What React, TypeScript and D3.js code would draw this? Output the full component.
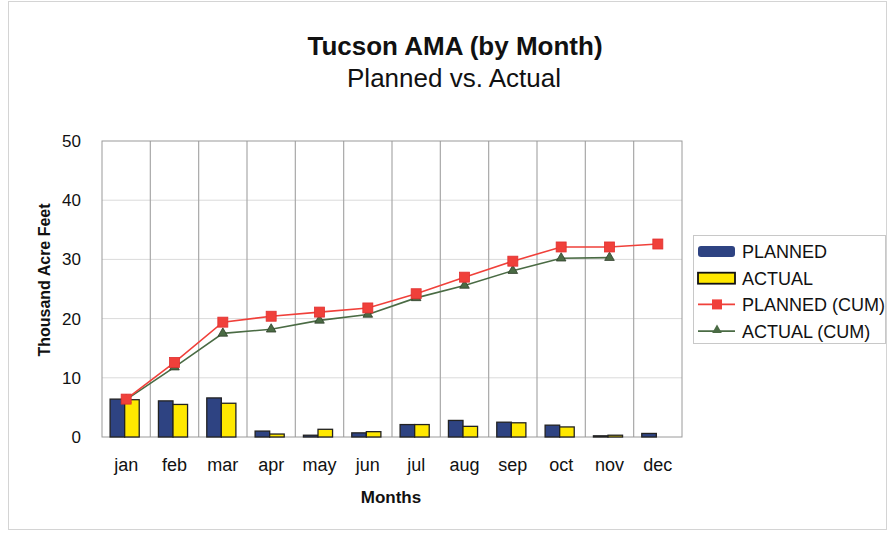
import React, { useEffect, useRef } from 'react';
import * as d3 from 'd3';

const months = ['jan', 'feb', 'mar', 'apr', 'may', 'jun', 'jul', 'aug', 'sep', 'oct', 'nov', 'dec'];
const planned = [6.4, 6.1, 6.6, 1.0, 0.3, 0.7, 2.1, 2.8, 2.5, 2.0, 0.2, 0.6];
const actual = [6.3, 5.5, 5.7, 0.5, 1.3, 0.9, 2.1, 1.8, 2.4, 1.7, 0.3, null];
const plannedCum = [6.4, 12.6, 19.4, 20.4, 21.1, 21.8, 24.2, 27.0, 29.7, 32.1, 32.1, 32.6];
const actualCum = [6.3, 11.8, 17.5, 18.2, 19.7, 20.7, 23.5, 25.6, 28.1, 30.2, 30.3, null];
const yTicks = [0, 10, 20, 30, 40, 50];
const legendLabels = ['PLANNED', 'ACTUAL', 'PLANNED (CUM)', 'ACTUAL (CUM)'];

const W = 888;
const H = 533;
const margin = { top: 141, right: 206, bottom: 96, left: 102 };
const FONT = '"Liberation Sans", Arial, sans-serif';
const NAVY = '#2e4382';
const YELLOW = '#ffe800';
const RED = '#f0403a';
const GREEN = '#4a6b44';

const App = () => {
    const svgRef = useRef<SVGSVGElement>(null);

    useEffect(() => {
        const svg = d3.select(svgRef.current);
        svg.selectAll('*').remove();
        svg.style('font-family', FONT);

        const innerWidth = W - margin.left - margin.right;
        const innerHeight = H - margin.top - margin.bottom;

        // background + outer border
        svg.append('rect').attr('x', 0).attr('y', 0).attr('width', W).attr('height', H).attr('fill', '#fff');
        svg.append('rect').attr('x', 8.5).attr('y', 1.5).attr('width', 878).attr('height', 528)
            .attr('fill', 'none').attr('stroke', '#d4d4d4');

        // titles
        svg.append('text').attr('x', 455).attr('y', 55).attr('text-anchor', 'middle')
            .attr('font-size', 26).attr('font-weight', 'bold').attr('fill', '#111')
            .text('Tucson AMA (by Month)');
        svg.append('text').attr('x', 454).attr('y', 87).attr('text-anchor', 'middle')
            .attr('font-size', 26).attr('fill', '#111')
            .text('Planned vs. Actual');

        const g = svg.append('g').attr('transform', `translate(${margin.left}, ${margin.top})`);

        const x = d3.scaleBand().domain(months).range([0, innerWidth]);
        const y = d3.scaleLinear().domain([0, 50]).range([innerHeight, 0]);

        // horizontal gridlines
        g.selectAll('.hgrid').data(yTicks.slice(1, 5)).join('line')
            .attr('x1', 0).attr('x2', innerWidth)
            .attr('y1', d => y(d)).attr('y2', d => y(d))
            .attr('stroke', '#dadada').attr('stroke-width', 1);

        // vertical gridlines at category boundaries
        g.selectAll('.vgrid').data(months.slice(1)).join('line')
            .attr('x1', d => x(d)!).attr('x2', d => x(d)!)
            .attr('y1', 0).attr('y2', innerHeight)
            .attr('stroke', '#a8a8a8').attr('stroke-width', 1.2);

        // plot frame
        g.append('rect').attr('x', 0).attr('y', 0).attr('width', innerWidth).attr('height', innerHeight)
            .attr('fill', 'none').attr('stroke', '#9a9a9a');

        // bars
        const x1 = d3.scaleBand().domain(['planned', 'actual']).range([0, x.bandwidth()]).paddingOuter(0.66);
        months.forEach((m, i) => {
            const bars = [
                { key: 'planned', v: planned[i], fill: NAVY },
                { key: 'actual', v: actual[i], fill: YELLOW },
            ];
            bars.forEach(b => {
                if (b.v == null) return;
                g.append('rect')
                    .attr('x', x(m)! + x1(b.key)! - 1.5)
                    .attr('y', y(b.v))
                    .attr('width', x1.bandwidth())
                    .attr('height', innerHeight - y(b.v))
                    .attr('fill', b.fill)
                    .attr('stroke', '#222')
                    .attr('stroke-width', 1.3);
            });
        });

        const cx = (m: string) => x(m)! + x.bandwidth() / 2;

        // cumulative lines
        const line = d3.line<[string, number | null]>()
            .defined(d => d[1] != null)
            .x(d => cx(d[0]))
            .y(d => y(d[1] as number));

        const actualPts = months.map((m, i) => [m, actualCum[i]] as [string, number | null]);
        const plannedPts = months.map((m, i) => [m, plannedCum[i]] as [string, number | null]);

        g.append('path').datum(actualPts).attr('d', line)
            .attr('fill', 'none').attr('stroke', GREEN).attr('stroke-width', 1.6);
        g.append('path').datum(plannedPts).attr('d', line)
            .attr('fill', 'none').attr('stroke', RED).attr('stroke-width', 1.6);

        const tri = d3.symbol().type(d3.symbolTriangle).size(40);
        g.selectAll('.tri').data(actualPts.filter(d => d[1] != null)).join('path')
            .attr('d', tri)
            .attr('transform', d => `translate(${cx(d[0])}, ${y(d[1] as number)})`)
            .attr('fill', GREEN).attr('stroke', '#2e3e2a').attr('stroke-width', 0.8);
        g.selectAll('.sq').data(plannedPts.filter(d => d[1] != null)).join('rect')
            .attr('x', d => cx(d[0]) - 5).attr('y', d => y(d[1] as number) - 5)
            .attr('width', 10).attr('height', 10)
            .attr('fill', RED).attr('stroke', '#e03030').attr('stroke-width', 0.8);

        // y axis labels
        g.selectAll('.ytick').data(yTicks).join('text')
            .attr('x', -21).attr('y', d => y(d) + 6)
            .attr('text-anchor', 'end').attr('font-size', 17).attr('fill', '#111')
            .text(d => d);

        // x axis labels
        g.selectAll('.xtick').data(months).join('text')
            .attr('x', d => cx(d)).attr('y', 471 - margin.top)
            .attr('text-anchor', 'middle').attr('font-size', 18).attr('fill', '#111')
            .text(d => d);

        svg.append('text').attr('x', 391).attr('y', 503).attr('text-anchor', 'middle')
            .attr('font-size', 17).attr('font-weight', 'bold').attr('fill', '#111')
            .text('Months');

        svg.append('text')
            .attr('transform', `translate(50, ${margin.top + innerHeight / 2 - 9}) rotate(-90)`)
            .attr('text-anchor', 'middle').attr('font-size', 16).attr('font-weight', 'bold').attr('fill', '#111')
            .text('Thousand Acre Feet');

        // legend
        const lg = svg.append('g').attr('transform', 'translate(693, 235)');
        lg.append('rect').attr('x', 0.5).attr('y', 0.5).attr('width', 192).attr('height', 108)
            .attr('fill', '#fff').attr('stroke', '#c8c8c8');
        legendLabels.forEach((label, i) => {
            const yy = 16 + i * 26.7;
            if (i === 0) {
                lg.append('rect').attr('x', 5).attr('y', yy - 5).attr('width', 37).attr('height', 11)
                    .attr('rx', 3).attr('fill', NAVY);
            } else if (i === 1) {
                lg.append('rect').attr('x', 5).attr('y', yy - 5).attr('width', 37).attr('height', 11)
                    .attr('fill', YELLOW).attr('stroke', '#111').attr('stroke-width', 1.8);
            } else {
                const col = i === 2 ? RED : GREEN;
                lg.append('line').attr('x1', 5).attr('x2', 42).attr('y1', yy).attr('y2', yy)
                    .attr('stroke', col).attr('stroke-width', 1.6);
                if (i === 2) {
                    lg.append('rect').attr('x', 19).attr('y', yy - 5).attr('width', 10).attr('height', 10).attr('fill', RED);
                } else {
                    lg.append('path').attr('d', tri).attr('transform', `translate(24, ${yy - 1})`).attr('fill', GREEN);
                }
            }
            lg.append('text').attr('x', 49).attr('y', yy + 7).attr('font-size', 18).attr('fill', '#111')
                .text(label);
        });
    }, []);

    return (
        <svg ref={svgRef} width={W} height={H}
            style={{ display: 'block', position: 'fixed', left: 0, top: 0 }} />
    );
};

export default App;
